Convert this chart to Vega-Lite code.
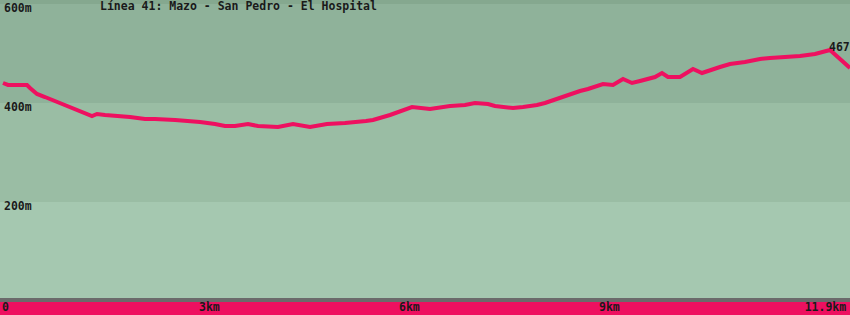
{
  "$schema": "https://vega.github.io/schema/vega-lite/v6.json",
  "width": 850,
  "height": 315,
  "padding": 0,
  "autosize": "none",
  "background": "#a5c8b0",
  "view": {"stroke": null},
  "config": {"text": {"font": "DejaVu Sans Mono", "fontWeight": "bold", "fontSize": 11.5, "color": "#1a1a1a"}},
  "datasets": {
    "bands": [
      {"band": "top", "x0": 0, "x1": 12.75, "lo": 600, "hi": 608.08},
      {"band": "b600", "x0": 0, "x1": 12.75, "lo": 400, "hi": 600},
      {"band": "b400", "x0": 0, "x1": 12.75, "lo": 200, "hi": 400},
      {"band": "b200", "x0": 0, "x1": 12.75, "lo": 6.06, "hi": 200},
      {"band": "base", "x0": 0, "x1": 12.75, "lo": -2.02, "hi": 6.06},
      {"band": "foot", "x0": 0, "x1": 12.75, "lo": -28.28, "hi": -2.02}
    ],
    "profile": [
      {"km": 0.045, "m": 440.4},
      {"km": 0.12, "m": 436.4},
      {"km": 0.405, "m": 436.4},
      {"km": 0.45, "m": 430.3},
      {"km": 0.555, "m": 418.2},
      {"km": 0.675, "m": 412.1},
      {"km": 1.38, "m": 373.7},
      {"km": 1.455, "m": 377.8},
      {"km": 1.575, "m": 375.8},
      {"km": 1.95, "m": 371.7},
      {"km": 2.175, "m": 367.7},
      {"km": 2.325, "m": 367.7},
      {"km": 2.625, "m": 365.7},
      {"km": 3.0, "m": 361.6},
      {"km": 3.225, "m": 357.6},
      {"km": 3.375, "m": 353.5},
      {"km": 3.525, "m": 353.5},
      {"km": 3.72, "m": 357.6},
      {"km": 3.87, "m": 353.5},
      {"km": 4.17, "m": 351.5},
      {"km": 4.395, "m": 357.6},
      {"km": 4.65, "m": 351.5},
      {"km": 4.905, "m": 357.6},
      {"km": 5.175, "m": 359.6},
      {"km": 5.49, "m": 363.6},
      {"km": 5.595, "m": 365.7},
      {"km": 5.85, "m": 375.8},
      {"km": 6.18, "m": 391.9},
      {"km": 6.45, "m": 387.9},
      {"km": 6.75, "m": 393.9},
      {"km": 6.975, "m": 396.0},
      {"km": 7.125, "m": 400.0},
      {"km": 7.32, "m": 398.0},
      {"km": 7.425, "m": 393.9},
      {"km": 7.695, "m": 389.9},
      {"km": 7.845, "m": 391.9},
      {"km": 8.055, "m": 396.0},
      {"km": 8.175, "m": 400.0},
      {"km": 8.7, "m": 424.2},
      {"km": 8.82, "m": 428.3},
      {"km": 9.045, "m": 438.4},
      {"km": 9.195, "m": 436.4},
      {"km": 9.345, "m": 448.5},
      {"km": 9.48, "m": 440.4},
      {"km": 9.6, "m": 444.4},
      {"km": 9.825, "m": 452.5},
      {"km": 9.93, "m": 460.6},
      {"km": 10.02, "m": 452.5},
      {"km": 10.2, "m": 452.5},
      {"km": 10.395, "m": 468.7},
      {"km": 10.53, "m": 460.6},
      {"km": 10.8, "m": 472.7},
      {"km": 10.95, "m": 478.8},
      {"km": 11.175, "m": 482.8},
      {"km": 11.4, "m": 488.9},
      {"km": 11.55, "m": 490.9},
      {"km": 12.0, "m": 494.9},
      {"km": 12.225, "m": 499.0},
      {"km": 12.45, "m": 507.1},
      {"km": 12.75, "m": 470.7}
    ],
    "labels": [
      {"km": 1.5, "m": 587.9, "label": "Línea 41: Mazo - San Pedro - El Hospital"},
      {"km": 0.06, "m": 584, "label": "600m"},
      {"km": 0.06, "m": 384, "label": "400m"},
      {"km": 0.06, "m": 184, "label": "200m"},
      {"km": 12.435, "m": 505, "label": "467"},
      {"km": 0.03, "m": -20.2, "label": "0"},
      {"km": 2.985, "m": -20.2, "label": "3km"},
      {"km": 5.985, "m": -20.2, "label": "6km"},
      {"km": 8.985, "m": -20.2, "label": "9km"},
      {"km": 12.07, "m": -20.2, "label": "11.9km"}
    ]
  },
  "layer": [
    {
      "data": {"name": "bands"},
      "mark": {"type": "rect", "strokeWidth": 0},
      "encoding": {
        "x": {"field": "x0", "type": "quantitative", "scale": {"domain": [0, 12.75], "nice": false, "zero": false}, "axis": null},
        "x2": {"field": "x1"},
        "y": {"field": "lo", "type": "quantitative", "scale": {"domain": [-28.28, 608.08], "nice": false, "zero": false}, "axis": null},
        "y2": {"field": "hi"},
        "color": {"field": "band", "type": "nominal", "legend": null,
          "scale": {"domain": ["top", "b600", "b400", "b200", "base", "foot"],
                    "range": ["#85a88f", "#8fb29a", "#9abda4", "#a5c8b0", "#6b6b6b", "#ee1060"]}}
      }
    },
    {
      "data": {"name": "profile"},
      "mark": {"type": "line", "color": "#ee1060", "strokeWidth": 4, "strokeJoin": "miter", "strokeCap": "butt"},
      "encoding": {
        "x": {"field": "km", "type": "quantitative"},
        "y": {"field": "m", "type": "quantitative"}
      }
    },
    {
      "data": {"name": "labels"},
      "mark": {"type": "text", "align": "left", "baseline": "alphabetic"},
      "encoding": {
        "x": {"field": "km", "type": "quantitative"},
        "y": {"field": "m", "type": "quantitative"},
        "text": {"field": "label"}
      }
    }
  ]
}
